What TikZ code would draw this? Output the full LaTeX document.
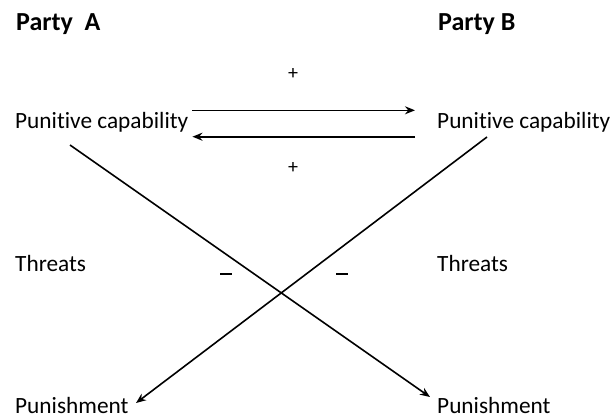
\documentclass[tikz,border=0pt]{standalone}
\usepackage{fontspec}
\setmainfont{Carlito}[Ligatures=NoCommon]
\usetikzlibrary{arrows.meta,calc}
\begin{document}
\begin{tikzpicture}[x=1pt,y=-1pt,
  lbl/.style={anchor=base west,inner sep=0pt,font=\fontsize{23.3}{28}\selectfont},
  head/.style={anchor=base west,inner sep=0pt,font=\fontsize{26}{31}\selectfont\bfseries},
  sign/.style={inner sep=0pt,font=\fontsize{20}{24}\selectfont},
  link/.style={line width=1.6pt,-{Stealth[length=10pt,width=8pt]}}]
\useasboundingbox (0,0) rectangle (613,418);
\node[head] (ha) at (16,30) {Party\ \ A};
\node[head] (hb) at (438,30) {Party B};
\node[lbl] (pa) at (15,128.3) {Punitive capability};
\node[lbl] (pb) at (437,128.3) {Punitive capability};
\node[lbl] (ta) at (15,271) {Threats};
\node[lbl] (tb) at (437,271) {Threats};
\node[lbl] (ua) at (15,413) {Punishment};
\node[lbl] (ub) at (437,413) {Punishment};
\node[sign] (p1) at (293,74) {+};
\node[sign] (p2) at (293,168) {+};
\draw[line width=1.8pt] (220,274) -- (232,274) coordinate (m1);
\draw[line width=1.8pt] (336,274) -- (348,274) coordinate (m2);
\draw[link] ($(pa.base east)+(4,-18)$) -- ($(pb.base west)+(-22,-18)$);
\draw[link] ($(pb.base west)+(-22,8.4)$) -- ($(pa.base east)+(4,8.4)$);
\draw[link] ($(pa.base west)+(55,16.7)$) -- ($(ub.base west)+(-7,-16)$);
\draw[link] ($(pb.base west)+(50,8.7)$) -- ($(ua.base west)+(121,-10)$);
\end{tikzpicture}
\end{document}
